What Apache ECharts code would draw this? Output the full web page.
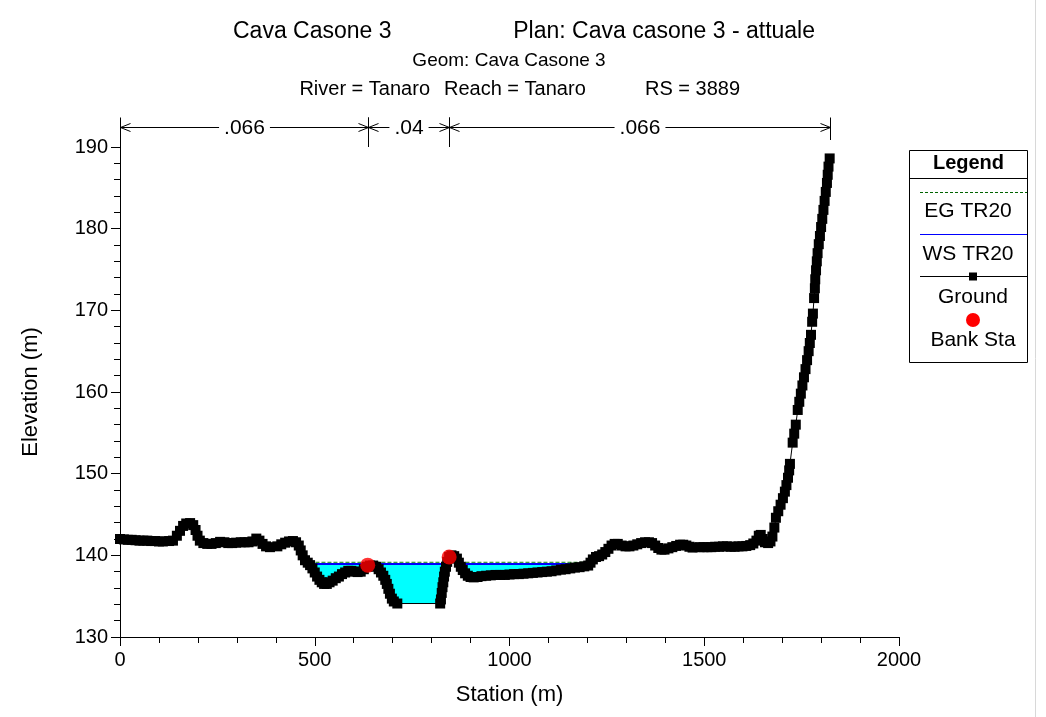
<!DOCTYPE html>
<html>
<head>
<meta charset="utf-8">
<script src="https://cdn.jsdelivr.net/npm/echarts@6/dist/echarts.min.js"></script>
<style>html,body{margin:0;padding:0;background:#fff;}#c{width:1046px;height:717px;}</style>
</head>
<body>
<div id="c"></div>
<script>
// ---- Data ----
const groundStation = [0,10,20,30,40,50,60,70,80,90,100,110,
  126,136,146,154,162,170,180,188,194,199,205,214,224,235,246,257,268,278,288,298,310,320,330,340,350,358,366,375,385,
  404,414,424,434,444,452,459,464,469,475,482,488,494,500,506,512,518,524,531,538,546,554,562,570,578,586,594,602,610,618,626,634,642,650,658,664,670,676,681,685,689,693,698,703,712,
  822,824,826,828,830,832,834,837,840,845,851,858,865,870,875,880,886,893,900,908,918,928,940,952,964,976,988,1000,1012,1024,1036,1048,1060,1072,1084,1096,1108,1120,1132,1144,1156,1168,1180,1192,1202,
  1208,1214,1222,1230,1238,1246,1254,1262,1270,1278,1288,1298,1308,1318,1328,1338,1348,1358,1366,1374,1382,1390,1398,1408,1418,1428,1438,1446,1454,1462,1470,
  1488,1498,1508,1518,1528,1538,1548,1558,1568,1578,1588,1598,1608,1618,1626,1634,1640,1645,1650,1656,1664,1670,1675,
  1680,1684,1690,1696,1702,1707,1711,1715,1718,1720,
  1727,1731,1735,
  1740,1744,1748,1752,1756,1760,1764,1768,1771,
  1774,1777,1779,1782,1784,1785,1787,1789,1791,1794,1797,1800,1803,1806,1809,1812,1815,1817,1819,1822];
const groundElev = [142.0,141.95,141.9,141.9,141.85,141.8,141.8,141.8,141.75,141.75,141.7,141.7,
  141.75,141.8,142.4,143.0,143.6,143.9,143.95,143.7,143.1,142.4,141.8,141.5,141.4,141.4,141.5,141.65,141.6,141.5,141.5,141.55,141.6,141.6,141.6,141.7,142.05,141.8,141.4,141.1,141.0,
  141.1,141.35,141.55,141.7,141.75,141.6,141.2,140.6,140.0,139.4,139.1,138.8,138.4,137.9,137.4,137.0,136.7,136.5,136.5,136.7,136.9,137.2,137.4,137.7,137.9,138.1,138.1,138.0,137.95,138.0,138.3,138.6,138.75,138.75,138.6,138.3,137.9,137.5,137.0,136.5,135.9,135.3,134.7,134.35,134.1,
  134.1,134.6,135.4,136.1,136.7,137.4,138.0,138.6,139.2,139.8,140.0,139.9,139.6,139.1,138.6,138.2,137.8,137.5,137.35,137.3,137.35,137.45,137.5,137.55,137.6,137.6,137.6,137.65,137.7,137.7,137.75,137.8,137.85,137.9,137.95,138.0,138.05,138.15,138.25,138.3,138.4,138.5,138.55,138.65,138.75,
  139.1,139.5,139.8,139.9,140.1,140.4,140.8,141.2,141.4,141.4,141.2,141.1,141.1,141.2,141.35,141.5,141.6,141.6,141.5,141.2,140.9,140.7,140.7,140.85,141.0,141.15,141.3,141.3,141.2,141.05,140.95,
  141.0,141.0,141.0,141.0,141.05,141.05,141.1,141.1,141.05,141.05,141.1,141.1,141.15,141.25,141.45,141.8,142.4,142.5,142.0,141.6,141.5,141.7,142.3,
  143.4,144.6,145.4,146.2,147.0,147.8,148.6,149.5,150.4,151.2,
  153.8,154.9,156.0,
  157.8,158.8,159.8,160.8,161.8,162.8,163.9,165.0,166.0,
  167.0,168.6,169.6,171.5,172.7,173.8,174.9,176.0,177.0,178.1,179.1,180.2,181.2,182.3,183.4,184.5,185.6,186.6,187.6,188.6];

const wsStations = [492, 1207];
const wsElev = 138.95;
const egStations = [471, 1210];
const egElev = 139.15;
const bankStations = [636, 845];
const bankElev = [138.8, 139.8];
const nStations = [0, 636, 845, 1823];
const nValues = ['.066', '.04', '.066'];
const xTicks = {min: 0, max: 2000, interval: 500};
const yTicks = {min: 130, max: 190, interval: 10};
const legendNames = ['EG TR20', 'WS TR20', 'Ground', 'Bank Sta'];

// ---- Build ----
const FONT = "'Liberation Sans', Arial, sans-serif";
const groundData = groundStation.map((s, i) => [s, groundElev[i]]);
const wsData = wsStations.map(s => [s, wsElev]);
const egData = egStations.map(s => [s, egElev]);
const bankData = bankStations.map((s, i) => [s, bankElev[i]]);
const nData = nValues.map((v, i) => [nStations[i], nStations[i + 1], i]);

const chart = echarts.init(document.getElementById('c'), null, {renderer: 'canvas'});

function renderN(params, api) {
  const x0 = api.value(0), x1 = api.value(1), idx = api.value(2);
  const p0 = api.coord([x0, yTicks.max]);
  const p1 = api.coord([x1, yTicks.max]);
  const yl = Math.round(p0[1] - 20) + 0.5;
  const a = Math.round(p0[0]) + 0.5, b = Math.round(p1[0]) + 0.5;
  const st = {stroke: '#000', lineWidth: 1};
  const ch = [];
  ch.push({type: 'line', shape: {x1: a, y1: yl, x2: b, y2: yl}, style: st});
  ch.push({type: 'line', shape: {x1: a, y1: yl, x2: a + 10, y2: yl - 4}, style: st});
  ch.push({type: 'line', shape: {x1: a, y1: yl, x2: a + 10, y2: yl + 4}, style: st});
  ch.push({type: 'line', shape: {x1: b, y1: yl, x2: b - 10, y2: yl - 4}, style: st});
  ch.push({type: 'line', shape: {x1: b, y1: yl, x2: b - 10, y2: yl + 4}, style: st});
  ch.push({type: 'line', shape: {x1: a, y1: yl - 10, x2: a, y2: p0[1]}, style: st});
  ch.push({type: 'line', shape: {x1: b, y1: yl - 10, x2: b, y2: p1[1] - 7}, style: st});
  ch.push({type: 'text', style: {text: nValues[idx], x: (a + b) / 2, y: yl + 1, align: 'center', verticalAlign: 'middle',
    fill: '#000', font: '21px ' + FONT, backgroundColor: '#fff', padding: [0, 5]}});
  return {type: 'group', children: ch};
}

const lx = 909.5, ly = 150.5, lw = 118;
const LF = '21px ' + FONT;
const legendGraphic = [
  {type: 'rect', shape: {x: lx, y: ly, width: lw, height: 212}, style: {fill: '#fff', stroke: '#000', lineWidth: 1}},
  {type: 'line', shape: {x1: lx, y1: 178.5, x2: lx + lw, y2: 178.5}, style: {stroke: '#000', lineWidth: 1}},
  {type: 'text', style: {text: 'Legend', x: lx + lw / 2, y: 163, align: 'center', verticalAlign: 'middle', font: 'bold 20px ' + FONT, fill: '#000'}},
  {type: 'line', shape: {x1: 920, y1: 192.5, x2: 1027, y2: 192.5}, style: {stroke: '#006400', lineWidth: 1, lineDash: [3, 2]}},
  {type: 'text', style: {text: legendNames[0], x: 968, y: 211, align: 'center', verticalAlign: 'middle', font: LF, fill: '#000'}},
  {type: 'line', shape: {x1: 920, y1: 234.5, x2: 1027, y2: 234.5}, style: {stroke: '#0000ff', lineWidth: 1}},
  {type: 'text', style: {text: legendNames[1], x: 968, y: 254, align: 'center', verticalAlign: 'middle', font: LF, fill: '#000'}},
  {type: 'line', shape: {x1: 920, y1: 276.5, x2: 1027, y2: 276.5}, style: {stroke: '#000', lineWidth: 1}},
  {type: 'rect', shape: {x: 969, y: 272.5, width: 8, height: 8}, style: {fill: '#000'}},
  {type: 'text', style: {text: legendNames[2], x: 973, y: 297, align: 'center', verticalAlign: 'middle', font: LF, fill: '#000'}},
  {type: 'circle', shape: {cx: 973, cy: 320, r: 7}, style: {fill: '#ff0000'}},
  {type: 'text', style: {text: legendNames[3], x: 973, y: 340, align: 'center', verticalAlign: 'middle', font: LF, fill: '#000'}}
];

const titleGraphic = [
  {type: 'text', style: {text: 'Cava Casone 3', x: 233, y: 32, verticalAlign: 'middle', font: '23px ' + FONT, fill: '#000'}},
  {type: 'text', style: {text: 'Plan: Cava casone 3 - attuale', x: 815, y: 32, align: 'right', verticalAlign: 'middle', font: '23px ' + FONT, fill: '#000'}},
  {type: 'text', style: {text: 'Geom: Cava Casone 3', x: 509, y: 61, align: 'center', verticalAlign: 'middle', font: '19px ' + FONT, fill: '#000'}},
  {type: 'text', style: {text: 'River = Tanaro', x: 430, y: 89, align: 'right', verticalAlign: 'middle', font: '20px ' + FONT, fill: '#000'}},
  {type: 'text', style: {text: 'Reach = Tanaro', x: 444, y: 89, verticalAlign: 'middle', font: '20px ' + FONT, fill: '#000'}},
  {type: 'text', style: {text: 'RS = 3889', x: 740, y: 89, align: 'right', verticalAlign: 'middle', font: '20px ' + FONT, fill: '#000'}},
  {type: 'line', shape: {x1: 1035.5, y1: 0, x2: 1035.5, y2: 717}, style: {stroke: '#d8d8d8', lineWidth: 1}}
];

const axisCommon = {
  axisLine: {show: true, lineStyle: {color: '#000', width: 1}},
  axisTick: {show: true, length: 9, lineStyle: {color: '#000'}},
  minorTick: {show: true, splitNumber: 5, length: 6, lineStyle: {color: '#000'}},
  splitLine: {show: false},
  nameTextStyle: {color: '#000', fontFamily: FONT, fontSize: 22},
  z: 10
};

chart.setOption({
  animation: false,
  backgroundColor: '#fff',
  grid: {left: 120, right: 147, top: 147, bottom: 80, containLabel: false},
  xAxis: Object.assign({type: 'value', min: xTicks.min, max: xTicks.max, interval: xTicks.interval,
    name: 'Station (m)', nameLocation: 'middle', nameGap: 47,
    axisLabel: {color: '#000', fontFamily: FONT, fontSize: 20, margin: 13, formatter: v => String(v)}}, axisCommon),
  yAxis: Object.assign({type: 'value', min: yTicks.min, max: yTicks.max, interval: yTicks.interval,
    name: 'Elevation (m)', nameLocation: 'middle', nameGap: 78, nameRotate: 90,
    axisLabel: {color: '#000', fontFamily: FONT, fontSize: 20, margin: 12, formatter: v => String(v)}}, axisCommon),
  graphic: titleGraphic.concat(legendGraphic),
  series: [
    {name: 'WS TR20', type: 'line', data: wsData, symbol: 'none', lineStyle: {color: '#0000ff', width: 2},
      areaStyle: {color: '#00ffff', opacity: 1, origin: 'start'}, z: 2},
    {name: 'EG TR20', type: 'line', data: egData, symbol: 'none', lineStyle: {color: '#008000', width: 1, type: [4, 2]}, z: 2},
    {name: 'Ground', type: 'line', data: groundData, symbol: 'rect', symbolSize: 10, showAllSymbol: true,
      itemStyle: {color: '#000'}, lineStyle: {color: '#000', width: 1},
      areaStyle: {color: '#fff', opacity: 1, origin: 'start'}, z: 3},
    {name: 'Bank Sta', type: 'scatter', data: bankData, symbol: 'circle', symbolSize: 15, itemStyle: {color: '#ff0000'}, z: 4},
    {name: 'n', type: 'custom', data: nData, renderItem: renderN, clip: false, z: 5, silent: true}
  ]
});
</script>
</body>
</html>
